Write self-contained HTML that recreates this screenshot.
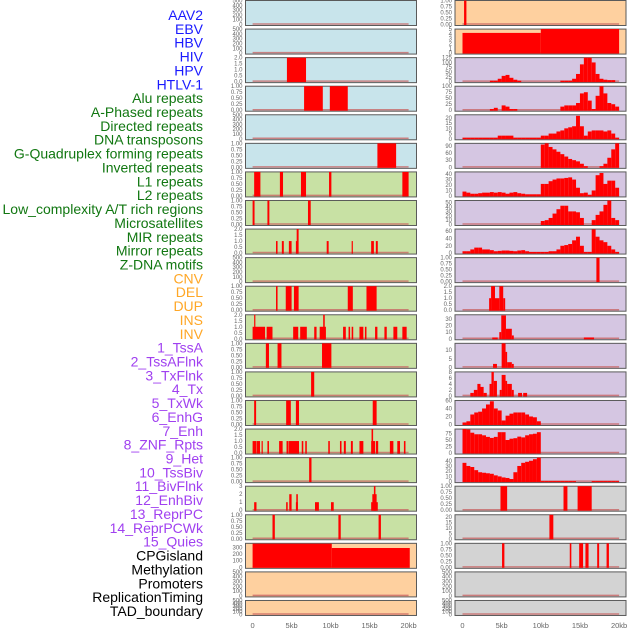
<!DOCTYPE html>
<html><head><meta charset="utf-8"><style>
body{margin:0;background:#fff;width:630px;height:630px;overflow:hidden}
svg{display:block}
</style></head><body>
<svg id="chart" width="630" height="630" xmlns="http://www.w3.org/2000/svg"></svg>
<script>
const NS='http://www.w3.org/2000/svg';
const svg=document.getElementById('chart');
const labelNames=["AAV2","EBV","HBV","HIV","HPV","HTLV-1","Alu repeats","A-Phased repeats","Directed repeats","DNA transposons","G-Quadruplex forming repeats","Inverted repeats","L1 repeats","L2 repeats","Low_complexity A/T rich regions","Microsatellites","MIR repeats","Mirror repeats","Z-DNA motifs","CNV","DEL","DUP","INS","INV","1_TssA","2_TssAFlnk","3_TxFlnk","4_Tx","5_TxWk","6_EnhG","7_Enh","8_ZNF_Rpts","9_Het","10_TssBiv","11_BivFlnk","12_EnhBiv","13_ReprPC","14_ReprPCWk","15_Quies","CPGisland","Methylation","Promoters","ReplicationTiming","TAD_boundary"];
const labelGroups=[6,13,5,15,5];
const groupColors=["#1a1aff","#117711","#ffa726","#a040f0","#000000"];
const xTickValues=[0,5,10,15,20];
const xTickLabels=["0","5kb","10kb","15kb","20kb"];
const T500=[0,100,200,300,400,500],T1=[0,0.25,0.5,0.75,1],T2=[0,0.5,1,1.5,2];
// left column panels: segments [startKb,endKb,value]
const l0=[],l1=[],l4=[],l9=[],l20=[],l21=[];
const l2=[[4.4,6.85,2]];
const l3=[[6.6,9.0,1],[9.9,12.2,1]];
const l5=[[16.0,18.4,1]];
const l6=[[0.2,1.0,1],[3.5,3.9,1],[6.2,6.85,1],[9.8,10.1,1],[19.2,20.0,1]];
const l7=[[0,0.25,1],[1.9,2.15,1],[7.1,7.45,1]];
const l8=[[3.0,3.2,1],[3.75,4.0,1],[4.65,5.0,1],[5.55,5.7,1],[5.65,5.9,2],[9.5,9.75,1],[12.7,12.85,1],[15.2,15.55,1],[15.8,16.05,1]];
const l10=[[3.0,3.2,1],[4.25,5.0,1],[5.3,5.9,1],[12.2,12.85,1],[14.6,15.9,1]];
const l11=[[0,1.6,1],[0.2,0.35,2],[1.8,2.55,1],[5.2,5.85,1],[6.1,6.95,1],[7.9,8.2,1],[8.6,9.4,1],[9.05,9.25,2],[11.6,11.95,1],[12.3,12.5,1],[12.7,12.9,1],[13.7,14.2,1],[14.4,14.6,1],[15.7,16.0,1],[16.9,17.2,1],[18.05,18.55,1],[19.2,19.75,1]];
const l12=[[1.7,2.1,1],[3.2,3.7,1],[8.9,10.1,1]];
const l13=[[7.5,7.9,1]];
const l14=[[0.2,0.45,1],[4.3,4.9,1],[5.55,5.95,1],[15.4,15.9,1]];
const l15=[[0,0.45,1],[0.5,0.95,1],[1.15,1.3,1],[1.9,2.1,1],[3.4,3.85,1],[4.35,4.6,1],[4.65,5.95,1],[6.3,6.5,1],[6.75,6.95,1],[9.7,9.9,1],[11.2,11.4,1],[11.7,11.95,1],[12.6,12.85,1],[13.7,14.2,1],[15.2,15.7,1],[15.25,15.45,2],[15.8,16.1,1],[17.6,18.05,1],[18.55,18.9,1],[19.4,19.6,1]];
const l16=[[7.25,7.55,1]];
const l17=[[0.2,0.5,1],[4.3,4.5,1],[4.7,5.0,2],[5.55,5.8,1],[5.6,5.8,2],[8.0,8.5,1],[10.05,10.4,1],[15.2,16.05,1],[15.35,15.9,2],[15.55,15.75,3]];
const l18=[[2.55,2.85,1],[11.0,11.3,1],[16.15,16.45,1]];
const l19=[[0,10.15,355],[10.15,20.15,290]];
// right column panels: segments or 0.5kb bins
const r0=[[0.2,0.5,1]];
const r1=[[0,10,4.2],[10,20,5]];
const r2=[0,0,0,0,0,0,0,5,5,15,30,35,20,10,5,0,0,0,0,0,0,0,0,0,0,5,5,5,15,40,90,125,125,100,40,15,10,8,8,0];
const r3=[0,0,0,0,0,0,0,5,10,0,20,15,5,5,0,0,0,0,0,0,0,0,0,0,0,15,20,20,20,30,70,75,40,5,60,100,70,30,25,15];
const r4=[1,1,1,1,1,1,1,1,1,3,3,3,3,1,1,1,1,1,1,1,3,3,5,5,7,8,10,11,12,22,12,3,7,8,8,8,7,8,5,1];
const r5=[0,0,0,0,0,0,0,0,0,0,0,0,0,0,0,0,0,0,0,0,95,100,85,75,65,55,45,35,30,25,15,5,0,0,0,5,15,40,75,100];
const r6=[8,6,4,4,5,6,6,7,6,7,6,4,6,7,5,4,3,3,3,3,22,22,27,30,32,32,33,34,30,15,5,6,2,10,38,42,22,28,28,15];
const r7=[0,0,0,0,0,0,0,0,0,0,0,0,0,0,0,0,0,0,0,0,8,10,15,25,35,43,43,30,30,28,15,0,0,10,22,30,45,55,15,10];
const r8=[5,5,10,15,15,10,10,8,5,6,7,7,6,5,7,8,5,3,3,3,3,3,5,5,10,20,22,25,35,45,20,3,3,65,45,35,30,20,10,3];
const r9=[[17.1,17.5,1]];
const r10=[[3.4,3.65,1],[3.65,4.15,2],[4.15,4.7,1],[4.7,5.2,2],[5.2,5.45,1]];
const r11=[[3.8,4.5,2],[4.7,4.95,10],[4.95,5.55,35],[5.55,6.3,15],[6.3,6.55,5],[15.5,16.8,2]];
const r12=[[3.9,4.4,2],[5.0,5.5,14],[5.5,5.7,9],[5.7,6.3,3],[6.3,6.55,2]];
const r13=[[1.0,1.45,1],[1.45,1.9,2],[1.9,2.3,4],[2.3,2.7,3],[2.7,3.1,1],[3.45,3.7,4],[3.7,4.0,8],[4.0,4.4,5],[4.75,5.0,2],[5.0,5.5,7],[5.5,5.7,5],[5.7,6.3,4],[6.3,6.55,2],[7.1,7.6,1],[7.75,8.25,1]];
const r14=[5,8,25,30,32,40,50,58,40,35,10,22,27,30,30,30,25,20,18,8,0,0,0,0,0,0,0,0,0,0,0,0,0,0,0,0,0,0,0,0];
const r15=[92,90,78,72,72,68,62,58,62,80,80,50,55,57,63,60,68,72,74,80,0,0,0,0,0,0,0,0,0,0,0,0,0,0,0,0,0,0,0,0];
const r16=[36,30,28,22,18,17,16,15,12,10,8,7,5,18,30,36,38,40,43,46,1,1,1,1,1,1,1,1,1,0,0,0,0,1,1,1,1,1,1,1];
const r17=[[4.85,5.7,1],[12.9,13.4,1],[14.7,16.5,1]];
const r18=[[11.1,11.6,22]];
const r19=[[5.05,5.35,1],[13.7,13.9,1],[14.9,15.4,1],[15.7,16.1,1],[17.2,17.45,1],[18.4,18.7,1]];
const r20=[],r21=[];

const BLUE='#c8e4eb',GREEN='#c8e1a4',ORANGE='#fed09f',PURPLE='#d5c6e2',GREY='#d3d3d3';
const leftPanels=[
 [BLUE,500,T500,l0],[BLUE,500,T500,l1],[BLUE,2,T2,l2],[BLUE,1,T1,l3],[BLUE,500,T500,l4],[BLUE,1,T1,l5],
 [GREEN,1,T1,l6],[GREEN,1,T1,l7],[GREEN,2,T2,l8],[GREEN,500,T500,l9],[GREEN,1,T1,l10],[GREEN,2,T2,l11],
 [GREEN,1,T1,l12],[GREEN,1,T1,l13],[GREEN,1,T1,l14],[GREEN,2,T2,l15],[GREEN,1,T1,l16],[GREEN,3,[0,1,2,3],l17],[GREEN,1,T1,l18],
 [ORANGE,360,[0,100,200,300],l19],[ORANGE,500,T500,l20],[ORANGE,500,T500,l21]];
const rightPanels=[
 [ORANGE,1,T1,r0],[ORANGE,5,[0,1,2,3,4,5],r1],[PURPLE,125,[0,25,50,75,100,125],r2],[PURPLE,100,[0,25,50,75,100],r3],
 [PURPLE,23,[0,5,10,15,20],r4],[PURPLE,100,[0,30,60,90],r5],[PURPLE,44,[0,10,20,30,40],r6],[PURPLE,55,[0,10,20,30,40,50],r7],
 [PURPLE,66,[0,20,40,60],r8],[PURPLE,1,T1,r9],[PURPLE,2,T2,r10],[PURPLE,36,[0,10,20,30],r11],[PURPLE,14,[0,5,10],r12],
 [PURPLE,8,[0,2,4,6,8],r13],[PURPLE,60,[0,20,40,60],r14],[PURPLE,92,[0,25,50,75],r15],[PURPLE,46,[0,10,20,30,40],r16],
 [GREY,1,T1,r17],[GREY,22,[0,5,10,15,20],r18],[GREY,1,T1,r19],[GREY,500,T500,r20],[GREY,500,T500,r21]];

function mk(tag,attrs,parent){const e=document.createElementNS(NS,tag);for(const k in attrs)e.setAttribute(k,attrs[k]);(parent||svg).appendChild(e);return e;}
const PX=[245.5,455],PW=171,KB0=[252.6,462.5],KBS=[7.8,7.83];
function xs(col,kb){return KB0[col]+kb*KBS[col];}
function fmt(t,ymax){if(ymax===1)return t.toFixed(2);if(ymax===2)return t.toFixed(1);return String(t);}

function drawPanel(col,row,p){
  const [bg,ymax,ticks,data]=p;
  const top=row*28.57+0.5,h=row===21?15:25,bot=top+h-1;
  const ys=v=>bot-v/ymax*(h-1);
  const g=mk('g',{});
  
  
  const r=mk('rect',{x:PX[col],y:top,width:PW,height:h,fill:bg,stroke:'#5a5a5a','stroke-width':1},g);
  
  
  mk('line',{x1:xs(col,0),x2:xs(col,20),y1:bot-0.5,y2:bot-0.5,stroke:'#c86060','stroke-width':1.5,opacity:0.75},g);
  const segs=[];
  if(data.length&&!Array.isArray(data[0])){data.forEach((v,i)=>{if(v>0)segs.push([i*0.5,i*0.5+0.5,v]);});}
  else data.forEach(s=>segs.push(s));
  segs.forEach(s=>{
    const y=Math.max(top,ys(Math.min(s[2],ymax)));
    const b=mk('rect',{x:xs(col,s[0]),y:y,width:Math.max(1.2,xs(col,s[1])-xs(col,s[0])),height:bot+0.5-y,fill:'#ff0000'},g);
    
    
  });
  ticks.forEach(t=>{
    const tx=mk('text',{x:PX[col]-3,y:ys(t)+2,'text-anchor':'end','font-size':'6','fill':'#666','font-family':'Liberation Sans, sans-serif'},g);
    tx.textContent=fmt(t,ymax);
    
    
  });
}
leftPanels.forEach((p,i)=>drawPanel(0,i,p));
rightPanels.forEach((p,i)=>drawPanel(1,i,p));

let idx=0;
labelGroups.forEach((n,gi)=>{for(let k=0;k<n;k++){
  const t=mk('text',{x:203,y:15+idx*13.86+5,'text-anchor':'end','font-size':'14','fill':groupColors[gi],'font-family':'Liberation Sans, sans-serif'});
  t.textContent=labelNames[idx];
  
  
  idx++;}});

[0,1].forEach(col=>xTickValues.forEach((v,i)=>{
  const t=mk('text',{x:xs(col,v),y:628,'text-anchor':'middle','font-size':'7.5','fill':'#666','font-family':'Liberation Sans, sans-serif'});
  t.textContent=xTickLabels[i];
  
  
}));
</script>
</body></html>
